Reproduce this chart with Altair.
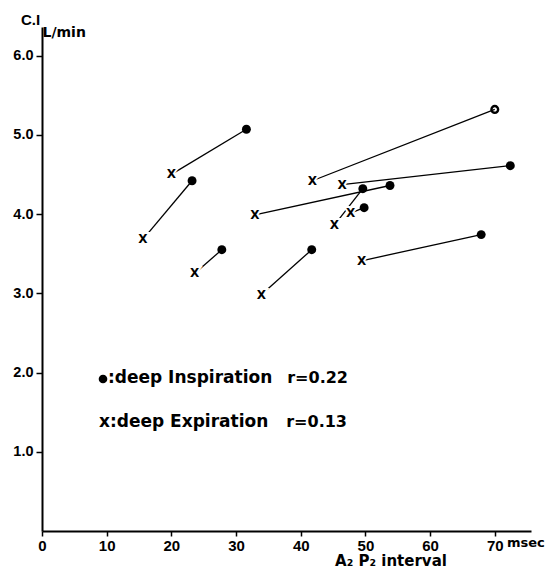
import altair as alt
import pandas as pd

# Paired measurements: deep Expiration (x) -> deep Inspiration (dot)
exp_x = [20.0, 15.6, 23.6, 32.9, 33.9, 41.8, 46.4, 45.2, 47.7, 49.4]
exp_y = [4.50, 3.68, 3.25, 3.99, 2.98, 4.42, 4.37, 3.86, 4.01, 3.41]
insp_x = [31.6, 23.2, 27.8, 53.8, 41.7, 70.0, 72.4, 49.6, 49.8, 67.9]
insp_y = [5.07, 4.42, 3.55, 4.36, 3.55, 5.32, 4.61, 4.32, 4.08, 3.74]
insp_open = [False, False, False, False, False, True, False, False, False, False]

x_ticks = [0, 10, 20, 30, 40, 50, 60, 70]
y_ticks = [1, 2, 3, 4, 5, 6]

pairs = pd.DataFrame({"ex": exp_x, "ey": exp_y, "ix": insp_x, "iy": insp_y, "open": insp_open})

FONT = "Liberation Sans"
WIDE = "DejaVu Sans"
xs = alt.Scale(domain=[0, 75.6], nice=False, zero=False)
ys = alt.Scale(domain=[0, 6.36], nice=False, zero=False)

x_axis = alt.Axis(values=x_ticks, format="d", title=None, grid=False,
                  labelFont=FONT, labelFontSize=15, labelFontWeight="bold", labelColor="black",
                  domainColor="black", domainWidth=2, tickColor="black", tickSize=5, tickWidth=1.5,
                  labelPadding=2, labelFlush=False)
y_axis = alt.Axis(values=y_ticks, format=".1f", title=None, grid=False,
                  labelFont=FONT, labelFontSize=14.5, labelFontWeight="bold", labelColor="black",
                  domainColor="black", domainWidth=2, tickColor="black", tickSize=6, tickWidth=1.5,
                  labelPadding=3)

base = alt.Chart(pairs)

lines = base.mark_rule(color="black", strokeWidth=1.3).encode(
    x=alt.X("ex:Q", scale=xs, axis=x_axis),
    y=alt.Y("ey:Q", scale=ys, axis=y_axis),
    x2="ix:Q", y2="iy:Q",
)

dots = base.transform_filter("!datum.open").mark_point(
    shape="circle", filled=True, size=80, color="black", opacity=1
).encode(x=alt.X("ix:Q", scale=xs), y=alt.Y("iy:Q", scale=ys))

open_dots = base.transform_filter("datum.open").mark_point(
    shape="circle", filled=False, size=45, color="black", strokeWidth=2.4, opacity=1
).encode(x=alt.X("ix:Q", scale=xs), y=alt.Y("iy:Q", scale=ys))

x_halo = base.mark_text(text="X", font=WIDE, fontSize=12, fontWeight="bold",
                        stroke="white", strokeWidth=4, fill="white", baseline="middle").encode(
    x=alt.X("ex:Q", scale=xs), y=alt.Y("ey:Q", scale=ys))
x_marks = base.mark_text(text="X", font=WIDE, fontSize=12, fontWeight="bold",
                         color="black", baseline="middle").encode(
    x=alt.X("ex:Q", scale=xs), y=alt.Y("ey:Q", scale=ys))


def note(txt, px, py, size=14, align="left", font=WIDE):
    return alt.Chart(pd.DataFrame({"t": [txt]})).mark_text(
        font=font, fontSize=size, fontWeight="bold", color="black",
        align=align, baseline="middle"
    ).encode(text="t:N", x=alt.value(px), y=alt.value(py))


legend_dot = alt.Chart(pd.DataFrame({"t": ["deep Inspiration"]})).mark_point(
    shape="circle", filled=True, size=75, color="black", opacity=1
).encode(x=alt.value(61), y=alt.value(352))

notes = [
    note("C.I", -21, -7, size=15, font=FONT),
    note("L/min", 0.5, 6, size=14),
    note("msec", 465, 516, size=13),
    note("A\u2082 P\u2082 interval", 349, 534, size=15, align="center"),
    note(":deep Inspiration", 66, 351, size=17),
    note("r=0.22", 306, 351, size=16, align="right"),
    note("x:deep Expiration", 57, 395, size=17),
    note("r=0.13", 305, 395, size=16, align="right"),
]

chart = alt.layer(lines, dots, open_dots, x_halo, x_marks, legend_dot, *notes).properties(
    width=489, height=504,
    autosize=alt.AutoSizeParams(type="none"),
    padding={"left": 34, "top": 19, "right": 18, "bottom": 38},
    background="white",
).configure_view(stroke=None)

chart.save("out.html", embed_options={"renderer": "svg", "actions": False})
